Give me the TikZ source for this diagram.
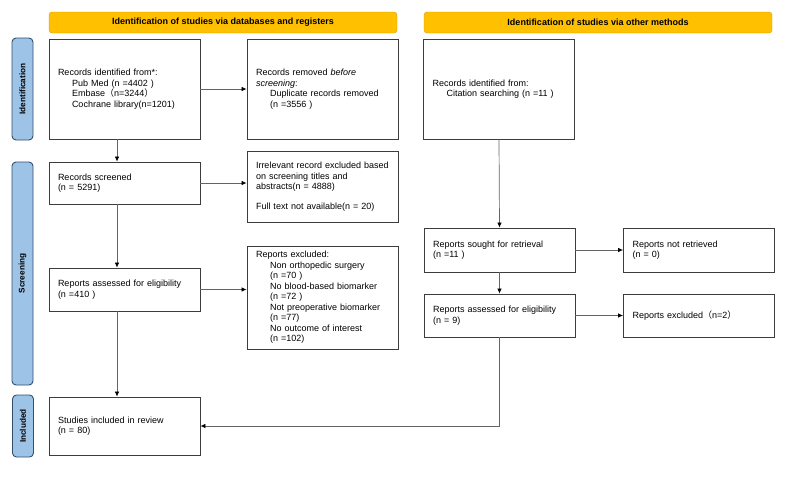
\documentclass[tikz,border=0pt]{standalone}
\usepackage{fontspec}
\setmainfont{Liberation Sans}
\newfontfamily\cjk{Noto Sans CJK SC}
\usepackage{tikz}
\definecolor{headgold}{RGB}{255, 192, 0}
\definecolor{headedge}{RGB}{214, 160, 20}
\definecolor{phaseblue}{RGB}{157, 195, 230}
\definecolor{phaseedge}{RGB}{50, 80, 110}
\definecolor{boxedge}{RGB}{60, 60, 60}
\definecolor{lineg}{RGB}{100, 100, 100}
\usetikzlibrary{arrows.meta, shapes}

\begin{document}
\begin{tikzpicture}[x=1pt, y=-1pt, >={Latex[black,length=5pt,width=4.5pt]},
		font=\fontsize{9}{10.5}\selectfont,
		stagebox/.style={draw=boxedge, line width=0.9pt, rectangle, align=left, inner xsep=9pt, inner ysep=0pt, text width=133pt, minimum width=151pt, minimum height=#1},
		headbox/.style={draw=headedge, fill=headgold, rounded corners=3pt, minimum width=348pt, minimum height=21pt, font=\fontsize{9}{10}\selectfont\bfseries},
		phasebox/.style={draw=phaseedge, fill=phaseblue, rounded corners=4pt, line width=0.9pt, rotate=90, minimum width=#1, minimum height=21pt, font=\fontsize{8.2}{9}\selectfont\bfseries},
		flow/.style={->, draw=lineg, line width=0.7pt}]
	% Rahmen
	\useasboundingbox (0,0) rectangle (800,491);
	% Kopfzeilen
	\node[headbox] (headdb) at (223,22.5) {Identification of studies via databases and registers};
	\node[headbox] (headoth) at (598,22.5) {Identification of studies via other methods};
	% Phasen links
	\node[phasebox=102pt] (phid) at (22.5,89) {Identification};
	\node[phasebox=223pt] (phscr) at (22.5,273.5) {Screening};
	\node[phasebox=62pt] (phinc) at (23,426) {Included};
	% Datenbanken
	\node[stagebox=100pt] (idrec) at (124.5,89) {Records identified from*:\\
		\hspace*{14pt}Pub Med (n =4402 )\\
		\hspace*{14pt}Embase{\cjk （}n=3244{\cjk ）}\\
		\hspace*{14pt}Cochrane library(n=1201)\\[14pt]};
	\node[stagebox=100pt] (removed) at (322.5,89) {Records removed \textit{before}\\
		\textit{screening}:\\
		\hspace*{14pt}Duplicate records removed\\
		\hspace*{14pt}(n =3556 )\\[14pt]};
	\node[stagebox=42pt] (screened) at (124.5,183) {Records screened\\(n = 5291)};
	\node[stagebox=71pt] (irrel) at (322.5,186.5) {Irrelevant record excluded based\\
		on screening titles and\\
		abstracts(n = 4888)\\[9pt]
		Full text not available(n = 20)\\[8pt]};
	\node[stagebox=43pt] (assessed) at (124.5,289.5) {Reports assessed for eligibility\\(n =410 )};
	\node[stagebox=103pt] (excl) at (322.5,297.5) {Reports excluded:\\
		\hspace*{14pt}Non orthopedic surgery\\
		\hspace*{14pt}(n =70 )\\
		\hspace*{14pt}No blood-based biomarker\\
		\hspace*{14pt}(n =72 )\\
		\hspace*{14pt}Not preoperative biomarker\\
		\hspace*{14pt}(n =77)\\
		\hspace*{14pt}No outcome of interest\\
		\hspace*{14pt}(n =102)};
	\node[stagebox=58pt] (included) at (124.5,426) {Studies included in review\\(n = 80)};
	% andere Methoden
	\node[stagebox=100pt] (other) at (499,89) {Records identified from:\\
		\hspace*{14pt}Citation searching (n =11 )\\[12pt]};
	\node[stagebox=44pt] (sought) at (499.5,250) {Reports sought for retrieval\\(n =11 )};
	\node[stagebox=44pt] (notret) at (699,250) {Reports not retrieved\\(n = 0)};
	\node[stagebox=43pt] (assessedoth) at (499.5,315.5) {Reports assessed for eligibility\\(n = 9)};
	\node[stagebox=43pt] (excloth) at (699,315.5) {Reports excluded{\cjk （}n=2{\cjk ）}};
	% Pfeile links
	\draw[flow] (idrec.east) -- (removed.west);
	\draw[flow] (screened.east) -- (screened.east -| irrel.west);
	\draw[flow] (assessed.east) -- (assessed.east -| excl.west);
	\draw[flow] ([xshift=-7.5pt]idrec.south) -- ([xshift=-7.5pt]screened.north);
	\draw[flow] ([xshift=-7.5pt]screened.south) -- ([xshift=-7.5pt]assessed.north);
	\draw[flow] ([xshift=-7.5pt]assessed.south) -- ([xshift=-7.5pt]included.north);
	% Pfeile rechts
	\draw[flow] (other.south) -- (sought.north);
	\draw[flow] (sought.east) -- (notret.west);
	\draw[flow] (sought.south) -- (assessedoth.north);
	\draw[flow] (assessedoth.east) -- (excloth.west);
	\draw[flow] (assessedoth.south) -- (assessedoth.south |- included.east) -- (included.east);
\end{tikzpicture}
\end{document}
